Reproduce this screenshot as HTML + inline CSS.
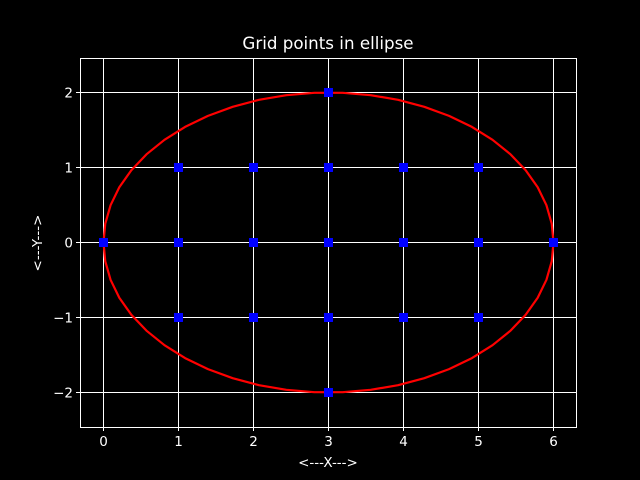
<!DOCTYPE html>
<html><head><meta charset="utf-8"><style>
html,body{margin:0;padding:0;background:#000;}
svg{display:block;font-family:"DejaVu Sans","Liberation Sans",sans-serif;}
</style></head><body>
<svg id="chart" width="640" height="480" xmlns="http://www.w3.org/2000/svg">
<rect x="0" y="0" width="640" height="480" fill="#000"/>
<text x="328" y="49" fill="#fff" font-size="16.7" text-anchor="middle">Grid points in ellipse</text>
<text x="328" y="467" fill="#fff" font-size="13.5" text-anchor="middle">&lt;---X---&gt;</text>
<text x="0" y="0" fill="#fff" font-size="13.5" text-anchor="middle" transform="translate(42,243) rotate(-90)">&lt;---Y---&gt;</text>
<g id="grid"></g><g id="ell"></g><g id="pts"></g><g id="axes"></g>
</svg>
<script>
const xTicks=[0,1,2,3,4,5,6];
const yTicks=[-2,-1,0,1,2];
const ellipseCenter=[3,0];
const ellipseAxes=[3,2];
const ptsX=[0,1,1,1,2,2,2,3,3,3,3,3,4,4,4,5,5,5,6];
const ptsY=[0,-1,0,1,-1,0,1,-2,-1,0,1,2,-1,0,1,-1,0,1,0];
const L=80,R=576,T=58,B=427;
const sx=v=>103.5+75*v;
const sy=v=>242.5-75*v;
const NS='http://www.w3.org/2000/svg';
function mk(t,a,p){const e=document.createElementNS(NS,t);for(const k in a)e.setAttribute(k,a[k]);p.appendChild(e);return e;}
const grid=document.getElementById('grid'),axes=document.getElementById('axes');
xTicks.forEach(v=>{const x=sx(v);
 const g=mk('line',{x1:x,x2:x,y1:T,y2:B,stroke:'#fff','stroke-width':1},grid);
 
 
 const t=mk('line',{x1:x,x2:x,y1:B,y2:B+4,stroke:'#fff','stroke-width':1},axes);
 
 
 const l=mk('text',{x:x,y:B+19,fill:'#fff','font-size':13.5,'text-anchor':'middle'},axes);
 l.textContent=String(v);
 
 
});
yTicks.forEach(v=>{const y=sy(v);
 const g=mk('line',{x1:L,x2:R,y1:y,y2:y,stroke:'#fff','stroke-width':1},grid);
 
 
 const t=mk('line',{x1:L-4,x2:L,y1:y,y2:y,stroke:'#fff','stroke-width':1},axes);
 
 
 const l=mk('text',{x:L-7,y:y+5,fill:'#fff','font-size':13.5,'text-anchor':'end'},axes);
 l.textContent=v<0?'\u2212'+Math.abs(v):String(v);
 
 
});
const fr=mk('rect',{x:L+0.5,y:T+0.5,width:R-L,height:B-T,fill:'none',stroke:'#fff','stroke-width':1},axes);


let d='';const N=50;
for(let i=0;i<=N;i++){const a=2*Math.PI*i/N;
 const x=sx(ellipseCenter[0]+ellipseAxes[0]*Math.cos(a)),y=sy(ellipseCenter[1]+ellipseAxes[1]*Math.sin(a));
 d+=(i?'L':'M')+x.toFixed(2)+' '+y.toFixed(2);}
const ep=mk('path',{d:d,fill:'none',stroke:'#f00','stroke-width':2.2,'stroke-linejoin':'round'},document.getElementById('ell'));


const pg=document.getElementById('pts');
ptsX.forEach((v,i)=>{
 const r=mk('rect',{x:sx(v)-4.5,y:sy(ptsY[i])-4.5,width:9,height:9,fill:'#00f'},pg);
 
 
});
</script>
</body></html>
